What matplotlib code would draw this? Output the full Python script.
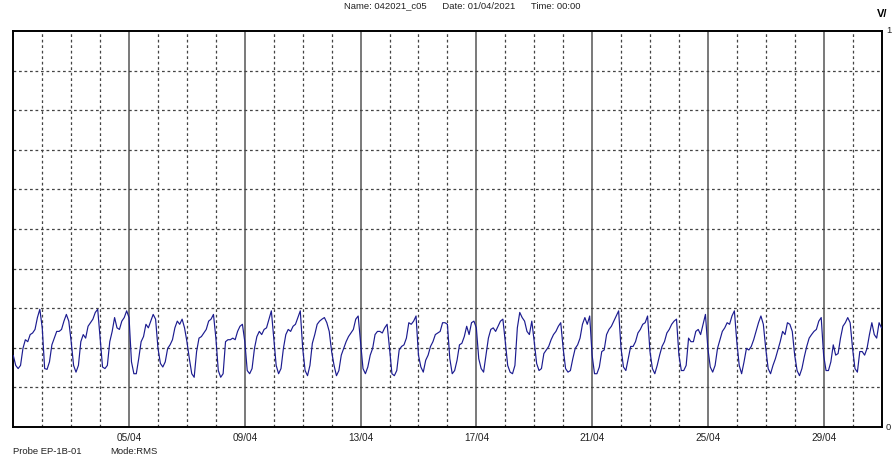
import matplotlib
matplotlib.use("Agg")
import matplotlib.pyplot as plt
import numpy as np

# ---- data: readings every 2 hours (00,02,...,22h) per day, fraction of full scale ----
apr01 = [0.180, 0.155, 0.147, 0.155, 0.198, 0.220, 0.215, 0.233, 0.237, 0.246, 0.276, 0.297]
apr02 = [0.250, 0.147, 0.145, 0.164, 0.207, 0.224, 0.241, 0.241, 0.246, 0.267, 0.284, 0.267]
apr03 = [0.215, 0.155, 0.138, 0.155, 0.215, 0.233, 0.224, 0.254, 0.263, 0.272, 0.289, 0.297]
apr04 = [0.224, 0.151, 0.147, 0.155, 0.215, 0.241, 0.276, 0.250, 0.246, 0.267, 0.276, 0.293]
apr05 = [0.276, 0.164, 0.134, 0.134, 0.172, 0.215, 0.228, 0.259, 0.250, 0.267, 0.284, 0.272]
apr06 = [0.198, 0.160, 0.151, 0.164, 0.198, 0.207, 0.220, 0.250, 0.267, 0.259, 0.272, 0.250]
apr07 = [0.215, 0.172, 0.134, 0.125, 0.190, 0.224, 0.228, 0.237, 0.246, 0.267, 0.272, 0.284]
apr08 = [0.224, 0.142, 0.125, 0.134, 0.215, 0.220, 0.220, 0.224, 0.220, 0.241, 0.254, 0.259]
apr09 = [0.215, 0.142, 0.134, 0.147, 0.198, 0.228, 0.241, 0.233, 0.246, 0.250, 0.272, 0.293]
apr10 = [0.224, 0.155, 0.134, 0.147, 0.198, 0.233, 0.246, 0.241, 0.254, 0.259, 0.276, 0.293]
apr11 = [0.198, 0.142, 0.129, 0.155, 0.211, 0.233, 0.259, 0.267, 0.272, 0.276, 0.263, 0.241]
apr12 = [0.190, 0.155, 0.129, 0.142, 0.181, 0.198, 0.215, 0.228, 0.237, 0.246, 0.272, 0.280]
apr13 = [0.215, 0.147, 0.134, 0.151, 0.181, 0.198, 0.233, 0.241, 0.241, 0.237, 0.250, 0.259]
apr14 = [0.198, 0.134, 0.129, 0.142, 0.194, 0.203, 0.207, 0.224, 0.263, 0.259, 0.267, 0.280]
apr15 = [0.181, 0.151, 0.138, 0.168, 0.181, 0.203, 0.215, 0.233, 0.237, 0.241, 0.263, 0.263]
apr16 = [0.259, 0.172, 0.134, 0.142, 0.168, 0.207, 0.211, 0.228, 0.254, 0.233, 0.263, 0.267]
apr17 = [0.250, 0.172, 0.147, 0.138, 0.181, 0.224, 0.246, 0.250, 0.241, 0.254, 0.267, 0.272]
apr18 = [0.215, 0.155, 0.138, 0.134, 0.155, 0.250, 0.289, 0.276, 0.267, 0.241, 0.233, 0.267]
apr19 = [0.215, 0.160, 0.142, 0.147, 0.185, 0.194, 0.203, 0.220, 0.233, 0.241, 0.254, 0.263]
apr20 = [0.198, 0.147, 0.138, 0.142, 0.172, 0.198, 0.207, 0.224, 0.259, 0.276, 0.259, 0.280]
apr21 = [0.181, 0.134, 0.134, 0.151, 0.190, 0.194, 0.233, 0.246, 0.254, 0.267, 0.280, 0.293]
apr22 = [0.198, 0.151, 0.142, 0.172, 0.203, 0.203, 0.215, 0.237, 0.246, 0.259, 0.263, 0.280]
apr23 = [0.190, 0.147, 0.134, 0.155, 0.181, 0.203, 0.215, 0.237, 0.246, 0.259, 0.267, 0.272]
apr24 = [0.181, 0.142, 0.142, 0.155, 0.224, 0.215, 0.215, 0.241, 0.246, 0.233, 0.259, 0.284]
apr25 = [0.198, 0.151, 0.138, 0.155, 0.198, 0.220, 0.241, 0.250, 0.263, 0.259, 0.280, 0.293]
apr26 = [0.215, 0.155, 0.134, 0.164, 0.198, 0.194, 0.203, 0.220, 0.241, 0.263, 0.280, 0.259]
apr27 = [0.198, 0.147, 0.134, 0.155, 0.172, 0.194, 0.215, 0.241, 0.233, 0.263, 0.259, 0.241]
apr28 = [0.181, 0.142, 0.129, 0.147, 0.177, 0.203, 0.224, 0.233, 0.241, 0.246, 0.267, 0.276]
apr29 = [0.181, 0.142, 0.142, 0.164, 0.207, 0.181, 0.185, 0.224, 0.254, 0.263, 0.276, 0.263]
apr30 = [0.198, 0.147, 0.138, 0.190, 0.190, 0.181, 0.198, 0.233, 0.263, 0.233, 0.224, 0.263]
may01 = [0.250]

days = [apr01, apr02, apr03, apr04, apr05, apr06, apr07, apr08, apr09, apr10,
        apr11, apr12, apr13, apr14, apr15, apr16, apr17, apr18, apr19, apr20,
        apr21, apr22, apr23, apr24, apr25, apr26, apr27, apr28, apr29, apr30, may01]

tick_days = [4, 8, 12, 16, 20, 24, 28]
tick_labels = ["05/04", "09/04", "13/04", "17/04", "21/04", "25/04", "29/04"]
title_text = "Name: 042021_c05      Date: 01/04/2021      Time: 00:00"
probe_text = "Probe EP-1B-01"
mode_text = "Mode:RMS"
unit_text = "V/"
y_top_label = "1"
y_bottom_label = "0"

values = np.concatenate([np.asarray(d, dtype=float) for d in days])
t_days = np.arange(len(values)) * (2.0 / 24.0)

# ---- figure ----
W, H = 892, 460
fig = plt.figure(figsize=(W / 100, H / 100), dpi=100)
fig.patch.set_facecolor("white")
ax = fig.add_axes([13.3 / W, 1 - 427.7 / H, (881.5 - 13.3) / W, (427.7 - 32.3) / H])
ax.set_xlim(0, 30)
ax.set_ylim(0, 1)

# grid
for d in range(1, 30):
    if d in tick_days:
        ax.axvline(d, color="#555555", lw=1.1, zorder=1)
    else:
        ax.axvline(d, color="#444444", lw=0.9, ls=(0, (2.2, 2.2)), zorder=1)
for yv in np.arange(0.1, 1.0, 0.1):
    ax.axhline(yv, color="#444444", lw=0.9, ls=(0, (2.2, 2.2)), zorder=1)

ax.plot(t_days, values, color="#1c1c90", lw=0.85, zorder=3)

ax.set_xticks(tick_days)
ax.set_xticklabels(tick_labels, fontsize=7.2, family="Liberation Sans", color="#222222")
ax.tick_params(axis="x", length=0, pad=4)
ax.set_yticks([])
for s in ax.spines.values():
    s.set_linewidth(1.4)
    s.set_color("black")

fs = 6.8
fig.text(462 / W, 1 - 0.8 / H, title_text, ha="center", va="top", fontsize=fs,
         family="Liberation Sans", color="#222222")
fig.text(13 / W, 1 - 452 / H, probe_text, ha="left", va="center", fontsize=fs,
         family="Liberation Sans", color="#222222")
fig.text(110 / W, 1 - 452 / H, mode_text, ha="left", va="center", fontsize=fs,
         family="Liberation Sans", color="#222222")
fig.text(877 / W, 1 - 14 / H, unit_text, ha="left", va="center", fontsize=8,
         family="Liberation Sans", fontweight="bold")
fig.text(886 / W, 1 - 31 / H, y_top_label, ha="left", va="center", fontsize=fs,
         family="Liberation Sans", color="#222222")
fig.text(886 / W, 1 - 428 / H, y_bottom_label, ha="left", va="center", fontsize=fs,
         family="Liberation Sans", color="#222222")

fig.savefig("out.png", dpi=100)
